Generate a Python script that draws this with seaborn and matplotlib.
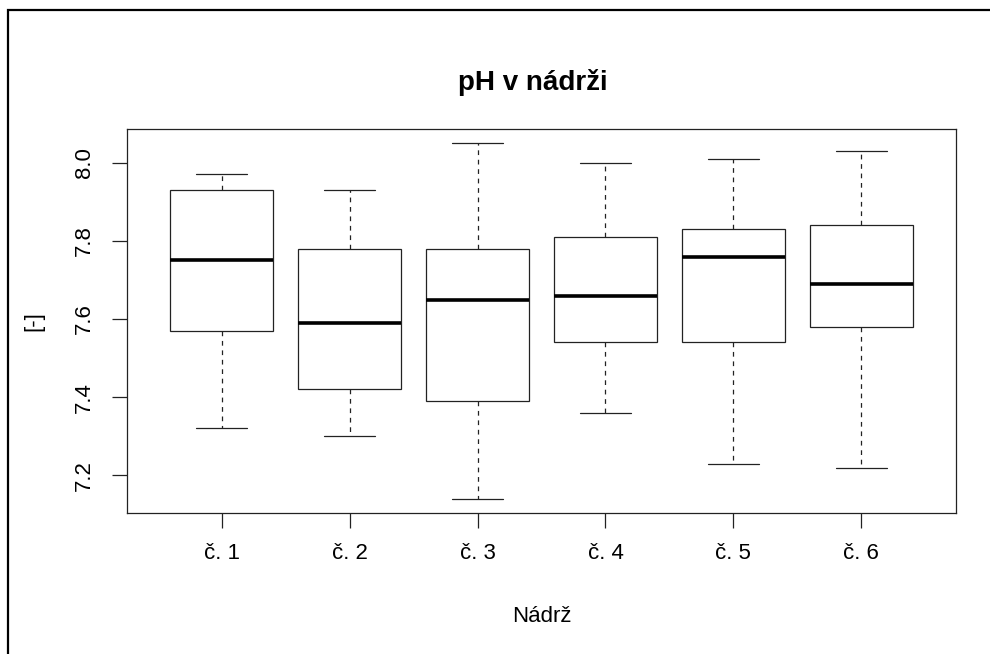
import matplotlib
matplotlib.use("Agg")
import matplotlib.pyplot as plt
import matplotlib.patches as mpatches
import seaborn as sns
import pandas as pd

# Data: five-number summary per tank
tanks = ["č. 1", "č. 2", "č. 3", "č. 4", "č. 5", "č. 6"]
ph_min = [7.32, 7.30, 7.14, 7.36, 7.23, 7.22]
ph_q1 = [7.57, 7.42, 7.39, 7.54, 7.54, 7.58]
ph_median = [7.75, 7.59, 7.65, 7.66, 7.76, 7.69]
ph_q3 = [7.93, 7.78, 7.78, 7.81, 7.83, 7.84]
ph_max = [7.97, 7.93, 8.05, 8.00, 8.01, 8.03]
yticks = [7.2, 7.4, 7.6, 7.8, 8.0]

rows = []
for i, t in enumerate(tanks):
    for v in (ph_min[i], ph_q1[i], ph_median[i], ph_q3[i], ph_max[i]):
        rows.append({"Nádrž": t, "pH": v})
df = pd.DataFrame(rows)

sns.set_style("white")
plt.rcParams["font.family"] = ["Liberation Sans", "DejaVu Sans"]
plt.rcParams["lines.scale_dashes"] = False
plt.rcParams["text.color"] = "black"
plt.rcParams["axes.labelcolor"] = "black"
plt.rcParams["xtick.color"] = "black"
plt.rcParams["ytick.color"] = "black"
plt.rcParams["xtick.labelcolor"] = "black"
plt.rcParams["ytick.labelcolor"] = "black"

fig = plt.figure(figsize=(9.9, 6.54), dpi=100)
ax = fig.add_axes([127 / 990, 1 - 513 / 654, (956 - 127) / 990, (513 - 129) / 654])

sns.boxplot(
    data=df, x="Nádrž", y="pH", order=tanks, ax=ax,
    color="white", linecolor="black", linewidth=0.9, width=0.8, whis=1.5,
    fill=True, saturation=1,
    boxprops=dict(facecolor="white", edgecolor="#222222", linewidth=0.9),
    whiskerprops=dict(linestyle=(0, (3.4, 3.4)), color="#222222", linewidth=0.9),
    capprops=dict(color="#222222", linewidth=0.9),
    medianprops=dict(color="black", linewidth=2.6),
    showfliers=False,
)

ax.set_xlim(-0.74, 5.74)
ax.set_ylim(7.1036, 8.0864)
ax.set_yticks(yticks)
ax.set_yticklabels([f"{v:.1f}" for v in yticks])

for s in ax.spines.values():
    s.set_visible(True)
    s.set_color("#222222")
    s.set_linewidth(0.9)

ax.tick_params(axis="both", which="major", direction="out", length=10.8, width=0.9,
               color="#222222", labelcolor="black", labelsize=16, bottom=True, left=True)
ax.tick_params(axis="x", pad=11)
ax.tick_params(axis="y", pad=12)
for lbl in ax.get_yticklabels():
    lbl.set_rotation(90)
    lbl.set_va("center")

ax.set_xlabel("Nádrž", fontsize=16, va="center", color="black")
ax.xaxis.set_label_coords(0.5, -(616 - 513) / 384)
ax.set_ylabel("[-]", fontsize=16, va="center", color="black")
ax.yaxis.set_label_coords(-(127 - 34) / 829, 0.5)

fig.text(533 / 990, 1 - 82 / 654, "pH v nádrži", ha="center", va="center",
         fontsize=20, fontweight="bold", color="black")

frame = mpatches.Rectangle((8 / 990, -0.1), 1.2, 1 - 10 / 654 + 0.1,
                           transform=fig.transFigure, fill=False,
                           edgecolor="black", linewidth=1.6, clip_on=False)
fig.add_artist(frame)

fig.savefig("out.png", dpi=100, facecolor="white")
